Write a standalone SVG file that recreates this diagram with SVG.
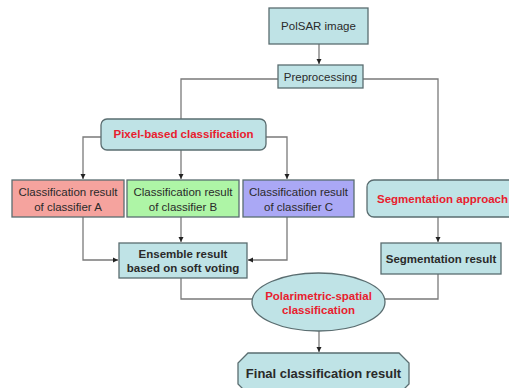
<svg xmlns="http://www.w3.org/2000/svg" width="509" height="388" viewBox="0 0 509 388">
<style>
.box{fill:#bfe3e6;stroke:#5a6d70;stroke-width:1.3}
.t{font-family:"Liberation Sans",Arial,sans-serif;font-size:11.5px;fill:#2a2a2a;text-anchor:middle}
.b{font-weight:bold}
.r{fill:#e8202e}
.ln{fill:none;stroke:#7a7a7a;stroke-width:1.3}
</style>
<defs>
<marker id="ah" markerWidth="6" markerHeight="6" refX="5" refY="3" orient="auto" markerUnits="userSpaceOnUse">
<path d="M0,0.5 L5,3 L0,5.5 Z" fill="#222"/>
</marker>
</defs>
<rect width="509" height="388" fill="#ffffff"/>
<g id="connectors">
<path class="ln" d="M319,44 V64" marker-end="url(#ah)"/>
<path class="ln" d="M278,79 H181 V119"/>
<path class="ln" d="M363,79 H438 V180"/>
<path class="ln" d="M101,137 H83 V179" marker-end="url(#ah)"/>
<path class="ln" d="M181,150 V179" marker-end="url(#ah)"/>
<path class="ln" d="M266,137 H287 V179" marker-end="url(#ah)"/>
<path class="ln" d="M181,217 V242" marker-end="url(#ah)"/>
<path class="ln" d="M83,217 V260 H118" marker-end="url(#ah)"/>
<path class="ln" d="M287,217 V260 H248" marker-end="url(#ah)"/>
<path class="ln" d="M438,217 V242" marker-end="url(#ah)"/>
<path class="ln" d="M181,278 V299 H252"/>
<path class="ln" d="M438,274 V299 H385"/>
<path class="ln" d="M319,331 V352" marker-end="url(#ah)"/>
</g>
<g id="polsar">
<rect class="box" x="269" y="8" width="99" height="36"/>
<text class="t" x="318.5" y="30">PolSAR image</text>
</g>
<g id="preprocessing">
<rect class="box" x="278" y="65" width="85" height="23"/>
<text class="t" x="320.5" y="81">Preprocessing</text>
</g>
<g id="pixel">
<rect class="box" x="101" y="119" width="165" height="31" rx="6"/>
<text class="t b r" x="183.5" y="138">Pixel-based classification</text>
</g>
<g id="classA">
<rect class="box" x="12" y="180" width="112" height="37" style="fill:#f5a39e"/>
<text class="t" x="68" y="196">Classification result</text>
<text class="t" x="68" y="211">of classifier A</text>
</g>
<g id="classB">
<rect class="box" x="127" y="180" width="112" height="37" style="fill:#aef5a6"/>
<text class="t" x="183" y="196">Classification result</text>
<text class="t" x="183" y="211">of classifier B</text>
</g>
<g id="classC">
<rect class="box" x="243" y="180" width="111" height="37" style="fill:#aaa8f5"/>
<text class="t" x="298.5" y="196">Classification result</text>
<text class="t" x="298.5" y="211">of classifier C</text>
</g>
<g id="segapproach">
<rect class="box" x="367" y="180" width="160" height="37" rx="7"/>
<text class="t b r" x="377" y="203" style="text-anchor:start">Segmentation approach</text>
</g>
<g id="ensemble">
<rect class="box" x="119" y="243" width="128" height="35"/>
<text class="t b" x="183" y="258">Ensemble result</text>
<text class="t b" x="183" y="272">based on soft voting</text>
</g>
<g id="segresult">
<rect class="box" x="381" y="243" width="120" height="31"/>
<text class="t b" x="441" y="263">Segmentation result</text>
</g>
<g id="polspatial">
<ellipse class="box" cx="318.5" cy="302" rx="66.5" ry="29"/>
<text class="t b r" x="318.5" y="300">Polarimetric-spatial</text>
<text class="t b r" x="318.5" y="314">classification</text>
</g>
<g id="final">
<polygon class="box" points="248,353 399,353 409,363 409,384 399,394 248,394 238,384 238,363"/>
<text class="t b" x="323.5" y="378" style="font-size:13px">Final classification result</text>
</g>
</svg>
